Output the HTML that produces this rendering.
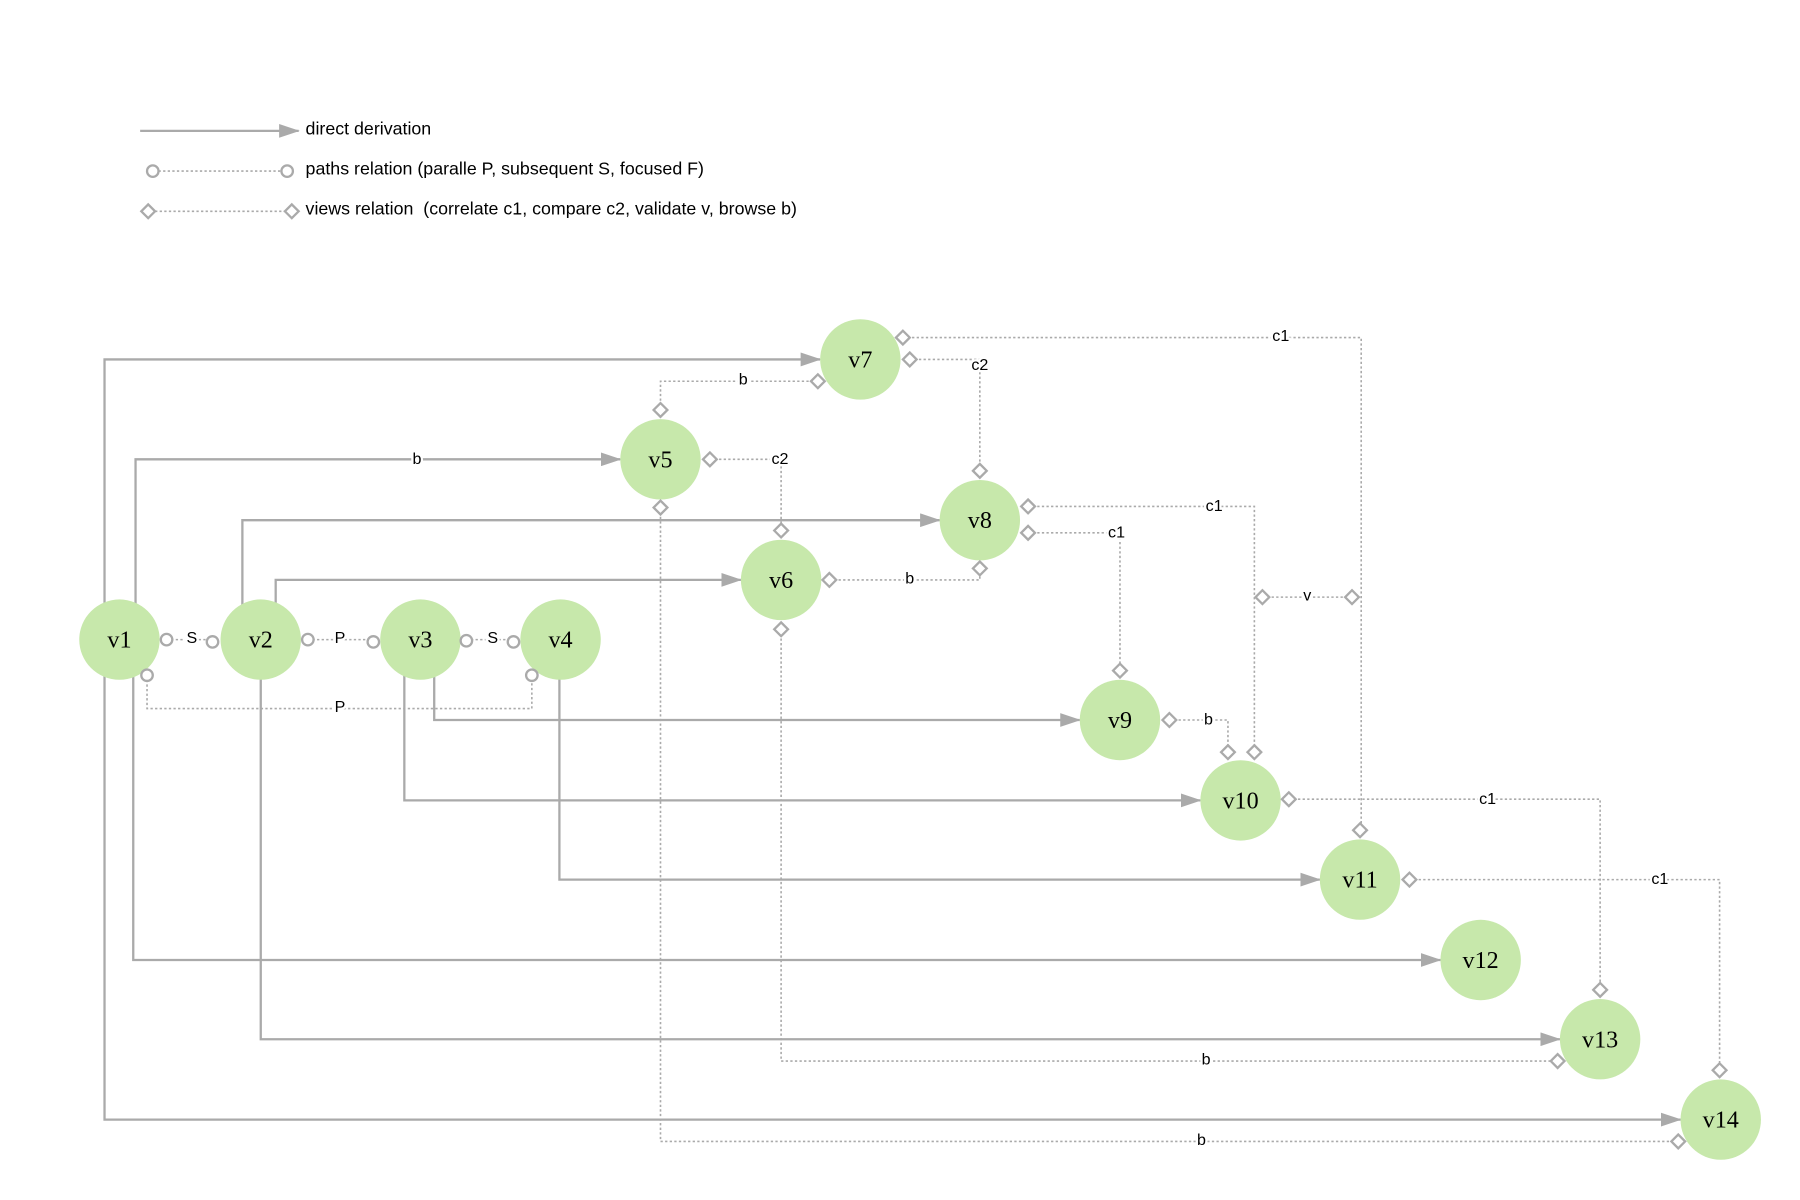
<!DOCTYPE html>
<html><head><meta charset="utf-8"><style>
html,body{margin:0;padding:0;background:#fff;}
svg{display:block;}
.s{stroke:#aaa;stroke-width:2;fill:none;}
.d{stroke:#aaa;stroke-width:1.4;fill:none;stroke-dasharray:2 2;}
.dm{stroke:#aaa;stroke-width:2;fill:#fff;}
.ci{stroke:#aaa;stroke-width:2;fill:#fff;}
.n{fill:#c7e8ab;}
.nt{font-family:"Liberation Serif",serif;font-size:21px;text-anchor:middle;fill:#000;}
.l{font-family:"Liberation Sans",sans-serif;font-size:14px;text-anchor:middle;fill:#000;paint-order:stroke;stroke:#fff;stroke-width:4px;}
.lg{font-family:"Liberation Sans",sans-serif;font-size:15.5px;fill:#000;}
</style></head><body>
<svg width="1800" height="1200" viewBox="0 0 1567 1045" preserveAspectRatio="none" xmlns="http://www.w3.org/2000/svg">
<defs>
<marker id="a" markerWidth="18" markerHeight="12" refX="17" refY="6" orient="auto" markerUnits="userSpaceOnUse"><path d="M0,0 L18,6 L0,12 z" fill="#aaa"/></marker>
<g id="dia"><path d="M-6,0 L0,-6 L6,0 L0,6 z" class="dm"/></g>
</defs>
<!-- legend -->
<line x1="122" y1="114" x2="260" y2="114" class="s" marker-end="url(#a)"/>
<text x="266" y="117" class="lg">direct derivation</text>
<line x1="138" y1="149" x2="245" y2="149" class="d"/>
<circle cx="133" cy="149" r="5" class="ci"/><circle cx="250" cy="149" r="5" class="ci"/>
<text x="266" y="152" class="lg">paths relation (paralle P, subsequent S, focused F)</text>
<line x1="135" y1="184" x2="248" y2="184" class="d"/>
<use href="#dia" x="129" y="184"/><use href="#dia" x="254" y="184"/>
<text x="266" y="187" class="lg" xml:space="preserve">views relation  (correlate c1, compare c2, validate v, browse b)</text>

<!-- solid derivations -->
<path d="M91,540 V313 H714" class="s" marker-end="url(#a)"/>
<path d="M118,530 V400 H540" class="s" marker-end="url(#a)"/>
<path d="M211,540 V453 H818" class="s" marker-end="url(#a)"/>
<path d="M240,525 V505 H645" class="s" marker-end="url(#a)"/>
<path d="M378,585 V627 H940" class="s" marker-end="url(#a)"/>
<path d="M352,588 V697 H1045" class="s" marker-end="url(#a)"/>
<path d="M487,590 V766 H1149" class="s" marker-end="url(#a)"/>
<path d="M116,585 V836 H1254" class="s" marker-end="url(#a)"/>
<path d="M227,590 V905 H1358" class="s" marker-end="url(#a)"/>
<path d="M91,575 V975 H1463" class="s" marker-end="url(#a)"/>
<text x="363" y="404" class="l">b</text>

<!-- dotted view relations -->
<path d="M786,294 H1185 V723" class="d"/>
<path d="M792,313 H853 V410" class="d"/>
<path d="M575,357 V332 H712" class="d"/>
<path d="M618,400 H680 V462" class="d"/>
<path d="M575,442 V994 H1461" class="d"/>
<path d="M722,505 H853 V495" class="d"/>
<path d="M680,548 V924 H1356" class="d"/>
<path d="M895,441 H1092 V655" class="d"/>
<path d="M895,464 H975 V584" class="d"/>
<path d="M1099,520 H1177" class="d"/>
<path d="M1018,627 H1069 V655" class="d"/>
<path d="M1122,696 H1393 V862" class="d"/>
<path d="M1227,766 H1497 V932" class="d"/>
<!-- paths relations -->
<path d="M145,557 H185" class="d"/>
<path d="M268,557 H325" class="d"/>
<path d="M406,557 H447" class="d"/>
<path d="M128,588 V617 H463 V588" class="d"/>

<!-- nodes -->
<g>
<circle cx="104" cy="557" r="35" class="n"/><text x="104" y="564" class="nt">v1</text>
<circle cx="227" cy="557" r="35" class="n"/><text x="227" y="564" class="nt">v2</text>
<circle cx="366" cy="557" r="35" class="n"/><text x="366" y="564" class="nt">v3</text>
<circle cx="488" cy="557" r="35" class="n"/><text x="488" y="564" class="nt">v4</text>
<circle cx="575" cy="400" r="35" class="n"/><text x="575" y="407" class="nt">v5</text>
<circle cx="680" cy="505" r="35" class="n"/><text x="680" y="512" class="nt">v6</text>
<circle cx="749" cy="313" r="35" class="n"/><text x="749" y="320" class="nt">v7</text>
<circle cx="853" cy="453" r="35" class="n"/><text x="853" y="460" class="nt">v8</text>
<circle cx="975" cy="627" r="35" class="n"/><text x="975" y="634" class="nt">v9</text>
<circle cx="1080" cy="697" r="35" class="n"/><text x="1080" y="704" class="nt">v10</text>
<circle cx="1184" cy="766" r="35" class="n"/><text x="1184" y="773" class="nt">v11</text>
<circle cx="1289" cy="836" r="35" class="n"/><text x="1289" y="843" class="nt">v12</text>
<circle cx="1393" cy="905" r="35" class="n"/><text x="1393" y="912" class="nt">v13</text>
<circle cx="1498" cy="975" r="35" class="n"/><text x="1498" y="982" class="nt">v14</text>
</g>

<!-- circle endpoints -->
<circle cx="145" cy="557" r="5" class="ci"/><circle cx="185" cy="559" r="5" class="ci"/>
<circle cx="268" cy="557" r="5" class="ci"/><circle cx="325" cy="559" r="5" class="ci"/>
<circle cx="406" cy="558" r="5" class="ci"/><circle cx="447" cy="559" r="5" class="ci"/>
<circle cx="128" cy="588" r="5" class="ci"/><circle cx="463" cy="588" r="5" class="ci"/>

<!-- diamonds -->
<use href="#dia" x="786" y="294"/><use href="#dia" x="1184" y="723"/>
<use href="#dia" x="792" y="313"/><use href="#dia" x="853" y="410"/>
<use href="#dia" x="575" y="357"/><use href="#dia" x="712" y="332"/>
<use href="#dia" x="618" y="400"/><use href="#dia" x="680" y="462"/>
<use href="#dia" x="575" y="442"/><use href="#dia" x="1461" y="994"/>
<use href="#dia" x="722" y="505"/><use href="#dia" x="853" y="495"/>
<use href="#dia" x="680" y="548"/><use href="#dia" x="1356" y="924"/>
<use href="#dia" x="895" y="441"/><use href="#dia" x="1092" y="655"/>
<use href="#dia" x="895" y="464"/><use href="#dia" x="975" y="584"/>
<use href="#dia" x="1099" y="520"/><use href="#dia" x="1177" y="520"/>
<use href="#dia" x="1018" y="627"/><use href="#dia" x="1069" y="655"/>
<use href="#dia" x="1122" y="696"/><use href="#dia" x="1393" y="862"/>
<use href="#dia" x="1227" y="766"/><use href="#dia" x="1497" y="932"/>

<!-- labels -->
<text x="167" y="560" class="l">S</text>
<text x="296" y="560" class="l">P</text>
<text x="429" y="560" class="l">S</text>
<text x="296" y="620" class="l">P</text>
<text x="1115" y="297" class="l">c1</text>
<text x="853" y="322" class="l">c2</text>
<text x="647" y="335" class="l">b</text>
<text x="679" y="404" class="l">c2</text>
<text x="1046" y="997" class="l">b</text>
<text x="792" y="508" class="l">b</text>
<text x="1050" y="927" class="l">b</text>
<text x="1057" y="445" class="l">c1</text>
<text x="972" y="468" class="l">c1</text>
<text x="1138" y="523" class="l">v</text>
<text x="1052" y="631" class="l">b</text>
<text x="1295" y="700" class="l">c1</text>
<text x="1445" y="770" class="l">c1</text>
</svg>
</body></html>
